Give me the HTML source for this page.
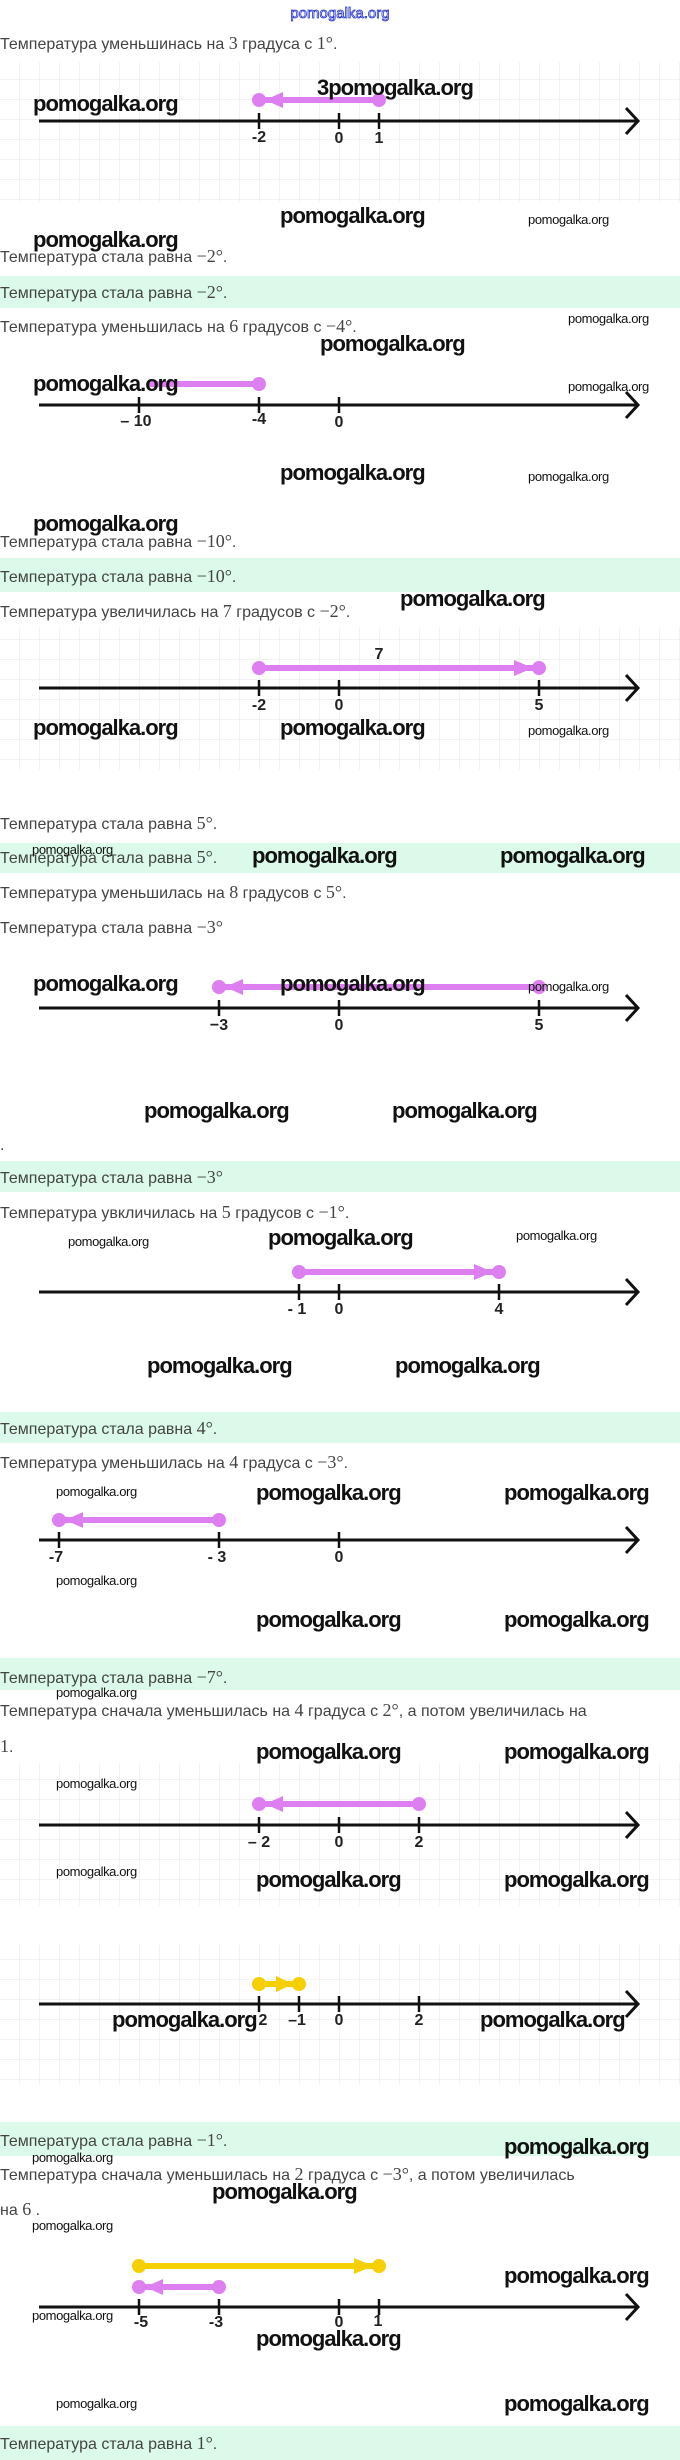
<!DOCTYPE html>
<html><head><meta charset="utf-8"><style>
html,body{margin:0;padding:0;background:#fff;}
svg{display:block;}
.t{font-family:"Liberation Sans",sans-serif;font-size:16px;fill:#444;}
.m{font-family:"Liberation Serif",serif;font-size:18px;}
.w{font-family:"Liberation Sans",sans-serif;font-size:22px;font-weight:bold;fill:#111;letter-spacing:-1px;}
.s{font-family:"Liberation Sans",sans-serif;font-size:13px;fill:#111;letter-spacing:-0.4px;}
.n{font-family:"Liberation Sans",sans-serif;font-size:16px;font-weight:bold;fill:#222;text-anchor:middle;}
</style></head><body>
<svg width="680" height="2460" viewBox="0 0 680 2460" xmlns="http://www.w3.org/2000/svg">
<defs>
<pattern id="g" width="20" height="20" patternUnits="userSpaceOnUse" x="0" y="0">
<path d="M20 0V20M0 20H20" stroke="#e6e6e6" stroke-width="1" fill="none"/>
</pattern>
<g id="ax"><line x1="39" y1="0" x2="636" y2="0" stroke="#111" stroke-width="3"/><path d="M626 -13 L638 0 L626 13" stroke="#111" stroke-width="3" fill="none"/></g>
</defs>
<rect width="680" height="2460" fill="#fff"/>
<rect x="0" y="62" width="680" height="140" fill="url(#g)"/>
<rect x="0" y="628" width="680" height="142" fill="url(#g)"/>
<rect x="0" y="1763" width="680" height="143" fill="url(#g)"/>
<rect x="0" y="1945" width="680" height="140" fill="url(#g)"/>
<rect x="0" y="276" width="680" height="32" fill="#dcfae9"/>
<rect x="0" y="558" width="680" height="34" fill="#dcfae9"/>
<rect x="0" y="843" width="680" height="30" fill="#dcfae9"/>
<rect x="0" y="1161" width="680" height="31" fill="#dcfae9"/>
<rect x="0" y="1412" width="680" height="31" fill="#dcfae9"/>
<rect x="0" y="1658" width="680" height="32" fill="#dcfae9"/>
<rect x="0" y="2122" width="680" height="34" fill="#dcfae9"/>
<rect x="0" y="2426" width="680" height="34" fill="#dcfae9"/>

<text x="340" y="18" text-anchor="middle" font-family="Liberation Sans,sans-serif" font-size="15" fill="#fff" stroke="#2233cc" stroke-width="0.8">pomogalka.org</text>

<text class="t" x="0" y="49">Температура уменьшинась на <tspan class="m">3</tspan> градуса с <tspan class="m">1°</tspan>.</text>
<text class="t" x="0" y="262">Температура стала равна <tspan class="m">−2°</tspan>.</text>
<text class="t" x="0" y="298">Температура стала равна <tspan class="m">−2°</tspan>.</text>
<text class="t" x="0" y="332">Температура уменьшилась на <tspan class="m">6</tspan> градусов с <tspan class="m">−4°</tspan>.</text>
<text class="t" x="0" y="547">Температура стала равна <tspan class="m">−10°</tspan>.</text>
<text class="t" x="0" y="582">Температура стала равна <tspan class="m">−10°</tspan>.</text>
<text class="t" x="0" y="617">Температура увеличилась на <tspan class="m">7</tspan> градусов с <tspan class="m">−2°</tspan>.</text>
<text class="t" x="0" y="829">Температура стала равна <tspan class="m">5°</tspan>.</text>
<text class="t" x="0" y="863">Температура стала равна <tspan class="m">5°</tspan>.</text>
<text class="t" x="0" y="898">Температура уменьшилась на <tspan class="m">8</tspan> градусов с <tspan class="m">5°</tspan>.</text>
<text class="t" x="0" y="933">Температура стала равна <tspan class="m">−3°</tspan></text>
<text class="t" x="0" y="1150">.</text>
<text class="t" x="0" y="1183">Температура стала равна <tspan class="m">−3°</tspan></text>
<text class="t" x="0" y="1218">Температура увкличилась на <tspan class="m">5</tspan> градусов с <tspan class="m">−1°</tspan>.</text>
<text class="t" x="0" y="1434">Температура стала равна <tspan class="m">4°</tspan>.</text>
<text class="t" x="0" y="1468">Температура уменьшилась на <tspan class="m">4</tspan> градуса с <tspan class="m">−3°</tspan>.</text>
<text class="t" x="0" y="1683">Температура стала равна <tspan class="m">−7°</tspan>.</text>
<text class="t" x="0" y="1716">Температура сначала уменьшилась на <tspan class="m">4</tspan> градуса с <tspan class="m">2°</tspan>, а потом увеличилась на</text>
<text class="t" x="0" y="1752"><tspan class="m">1</tspan>.</text>
<text class="t" x="0" y="2146">Температура стала равна <tspan class="m">−1°</tspan>.</text>
<text class="t" x="0" y="2180">Температура сначала уменьшилась на <tspan class="m">2</tspan> градуса с <tspan class="m">−3°</tspan>, а потом увеличилась</text>
<text class="t" x="0" y="2215">на <tspan class="m">6</tspan> .</text>
<text class="t" x="0" y="2449">Температура стала равна <tspan class="m">1°</tspan>.</text>

<g stroke="#111" stroke-width="2.5">
<use href="#ax" y="121"/><line x1="259" y1="113" x2="259" y2="129"/><line x1="339" y1="113" x2="339" y2="129"/><line x1="379" y1="113" x2="379" y2="129"/>
<use href="#ax" y="405"/><line x1="139" y1="397" x2="139" y2="413"/><line x1="259" y1="397" x2="259" y2="413"/><line x1="339" y1="397" x2="339" y2="413"/>
<use href="#ax" y="688"/><line x1="259" y1="680" x2="259" y2="696"/><line x1="339" y1="680" x2="339" y2="696"/><line x1="539" y1="680" x2="539" y2="696"/>
<use href="#ax" y="1008"/><line x1="219" y1="1000" x2="219" y2="1016"/><line x1="339" y1="1000" x2="339" y2="1016"/><line x1="539" y1="1000" x2="539" y2="1016"/>
<use href="#ax" y="1292"/><line x1="299" y1="1284" x2="299" y2="1300"/><line x1="339" y1="1284" x2="339" y2="1300"/><line x1="499" y1="1284" x2="499" y2="1300"/>
<use href="#ax" y="1540"/><line x1="59" y1="1532" x2="59" y2="1548"/><line x1="219" y1="1532" x2="219" y2="1548"/><line x1="339" y1="1532" x2="339" y2="1548"/>
<use href="#ax" y="1825"/><line x1="259" y1="1817" x2="259" y2="1833"/><line x1="339" y1="1817" x2="339" y2="1833"/><line x1="419" y1="1817" x2="419" y2="1833"/>
<use href="#ax" y="2004"/><line x1="259" y1="1996" x2="259" y2="2012"/><line x1="299" y1="1996" x2="299" y2="2012"/><line x1="339" y1="1996" x2="339" y2="2012"/><line x1="419" y1="1996" x2="419" y2="2012"/>
<use href="#ax" y="2307"/><line x1="139" y1="2299" x2="139" y2="2315"/><line x1="219" y1="2299" x2="219" y2="2315"/><line x1="339" y1="2299" x2="339" y2="2315"/><line x1="379" y1="2299" x2="379" y2="2315"/>
</g>
<g>
<text class="n" x="259" y="142">-2</text><text class="n" x="339" y="143">0</text><text class="n" x="379" y="143">1</text>
<text class="n" x="136" y="426">– 10</text><text class="n" x="259" y="424">-4</text><text class="n" x="339" y="427">0</text>
<text class="n" x="259" y="710">-2</text><text class="n" x="339" y="710">0</text><text class="n" x="539" y="710">5</text>
<text class="n" x="219" y="1030">−3</text><text class="n" x="339" y="1030">0</text><text class="n" x="539" y="1030">5</text>
<text class="n" x="297" y="1314">- 1</text><text class="n" x="339" y="1314">0</text><text class="n" x="499" y="1314">4</text>
<text class="n" x="56" y="1562">-7</text><text class="n" x="217" y="1562">- 3</text><text class="n" x="339" y="1562">0</text>
<text class="n" x="259" y="1847">– 2</text><text class="n" x="339" y="1847">0</text><text class="n" x="419" y="1847">2</text>
<text class="n" x="263" y="2025">2</text><text class="n" x="297" y="2025">–1</text><text class="n" x="339" y="2025">0</text><text class="n" x="419" y="2025">2</text>
<text class="n" x="141" y="2327">-5</text><text class="n" x="216" y="2327">-3</text><text class="n" x="339" y="2327">0</text><text class="n" x="378" y="2326">1</text>
<text class="n" x="379" y="659">7</text>
</g>
<g stroke-width="6" stroke-linecap="round">
<line x1="259" y1="100" x2="379" y2="100" stroke="#dd7ff0"/><circle cx="259" cy="100" r="7" fill="#dd7ff0"/><circle cx="379" cy="100" r="7" fill="#dd7ff0"/><path d="M265 100 L283 92 L283 108Z" fill="#dd7ff0"/>
<line x1="150" y1="384" x2="259" y2="384" stroke="#dd7ff0"/><circle cx="259" cy="384" r="7" fill="#dd7ff0"/>
<line x1="259" y1="668" x2="539" y2="668" stroke="#dd7ff0"/><circle cx="259" cy="668" r="7" fill="#dd7ff0"/><circle cx="539" cy="668" r="7" fill="#dd7ff0"/><path d="M533 668 L514 660 L514 676Z" fill="#dd7ff0"/>
<line x1="219" y1="987" x2="539" y2="987" stroke="#dd7ff0"/><circle cx="219" cy="987" r="7" fill="#dd7ff0"/><circle cx="539" cy="987" r="7" fill="#dd7ff0"/><path d="M225 987 L243 979 L243 995Z" fill="#dd7ff0"/>
<line x1="299" y1="1272" x2="499" y2="1272" stroke="#dd7ff0"/><circle cx="299" cy="1272" r="7" fill="#dd7ff0"/><circle cx="499" cy="1272" r="7" fill="#dd7ff0"/><path d="M493 1272 L474 1264 L474 1280Z" fill="#dd7ff0"/>
<line x1="59" y1="1520" x2="219" y2="1520" stroke="#dd7ff0"/><circle cx="59" cy="1520" r="7" fill="#dd7ff0"/><circle cx="219" cy="1520" r="7" fill="#dd7ff0"/><path d="M65 1520 L83 1512 L83 1528Z" fill="#dd7ff0"/>
<line x1="259" y1="1804" x2="419" y2="1804" stroke="#dd7ff0"/><circle cx="259" cy="1804" r="7" fill="#dd7ff0"/><circle cx="419" cy="1804" r="7" fill="#dd7ff0"/><path d="M265 1804 L283 1796 L283 1812Z" fill="#dd7ff0"/>
<line x1="259" y1="1984" x2="299" y2="1984" stroke="#f5cf00"/><circle cx="259" cy="1984" r="7" fill="#f5cf00"/><circle cx="299" cy="1984" r="7" fill="#f5cf00"/><path d="M293 1984 L276 1976 L276 1992Z" fill="#f5cf00"/>
<line x1="139" y1="2266" x2="379" y2="2266" stroke="#f5cf00"/><circle cx="139" cy="2266" r="7" fill="#f5cf00"/><circle cx="379" cy="2266" r="7" fill="#f5cf00"/><path d="M373 2266 L354 2258 L354 2274Z" fill="#f5cf00"/>
<line x1="139" y1="2287" x2="219" y2="2287" stroke="#dd7ff0"/><circle cx="139" cy="2287" r="7" fill="#dd7ff0"/><circle cx="219" cy="2287" r="7" fill="#dd7ff0"/><path d="M145 2287 L163 2279 L163 2295Z" fill="#dd7ff0"/>
</g>

<g>
<text class="w" x="33" y="111">pomogalka.org</text>
<text class="w" x="317" y="95">3pomogalka.org</text>
<text class="w" x="280" y="223">pomogalka.org</text>
<text class="s" x="528" y="224">pomogalka.org</text>
<text class="w" x="33" y="247">pomogalka.org</text>
<text class="s" x="568" y="323">pomogalka.org</text>
<text class="w" x="320" y="351">pomogalka.org</text>
<text class="w" x="33" y="391">pomogalka.org</text>
<text class="s" x="568" y="391">pomogalka.org</text>
<text class="w" x="280" y="480">pomogalka.org</text>
<text class="s" x="528" y="481">pomogalka.org</text>
<text class="w" x="33" y="531">pomogalka.org</text>
<text class="w" x="400" y="606">pomogalka.org</text>
<text class="w" x="33" y="735">pomogalka.org</text>
<text class="w" x="280" y="735">pomogalka.org</text>
<text class="s" x="528" y="735">pomogalka.org</text>
<text class="s" x="32" y="854" font-size="11">pomogalka.org</text>
<text class="w" x="252" y="863">pomogalka.org</text>
<text class="w" x="500" y="863">pomogalka.org</text>
<text class="w" x="33" y="991">pomogalka.org</text>
<text class="w" x="280" y="991">pomogalka.org</text>
<text class="s" x="528" y="991">pomogalka.org</text>
<text class="w" x="144" y="1118">pomogalka.org</text>
<text class="w" x="392" y="1118">pomogalka.org</text>
<text class="s" x="68" y="1246">pomogalka.org</text>
<text class="w" x="268" y="1245">pomogalka.org</text>
<text class="s" x="516" y="1240">pomogalka.org</text>
<text class="w" x="147" y="1373">pomogalka.org</text>
<text class="w" x="395" y="1373">pomogalka.org</text>
<text class="s" x="56" y="1496">pomogalka.org</text>
<text class="w" x="256" y="1500">pomogalka.org</text>
<text class="w" x="504" y="1500">pomogalka.org</text>
<text class="s" x="56" y="1585">pomogalka.org</text>
<text class="w" x="256" y="1627">pomogalka.org</text>
<text class="w" x="504" y="1627">pomogalka.org</text>
<text class="s" x="56" y="1697">pomogalka.org</text>
<text class="w" x="256" y="1759">pomogalka.org</text>
<text class="w" x="504" y="1759">pomogalka.org</text>
<text class="s" x="56" y="1788">pomogalka.org</text>
<text class="s" x="56" y="1876">pomogalka.org</text>
<text class="w" x="256" y="1887">pomogalka.org</text>
<text class="w" x="504" y="1887">pomogalka.org</text>
<text class="w" x="112" y="2027">pomogalka.org</text>
<text class="w" x="480" y="2027">pomogalka.org</text>
<text class="w" x="504" y="2154">pomogalka.org</text>
<text class="s" x="32" y="2162" font-size="11">pomogalka.org</text>
<text class="w" x="212" y="2199">pomogalka.org</text>
<text class="s" x="32" y="2230" font-size="11">pomogalka.org</text>
<text class="w" x="504" y="2283">pomogalka.org</text>
<text class="s" x="32" y="2320">pomogalka.org</text>
<text class="w" x="256" y="2346">pomogalka.org</text>
<text class="s" x="56" y="2408">pomogalka.org</text>
<text class="w" x="504" y="2411">pomogalka.org</text>
</g>
</svg>
</body></html>
